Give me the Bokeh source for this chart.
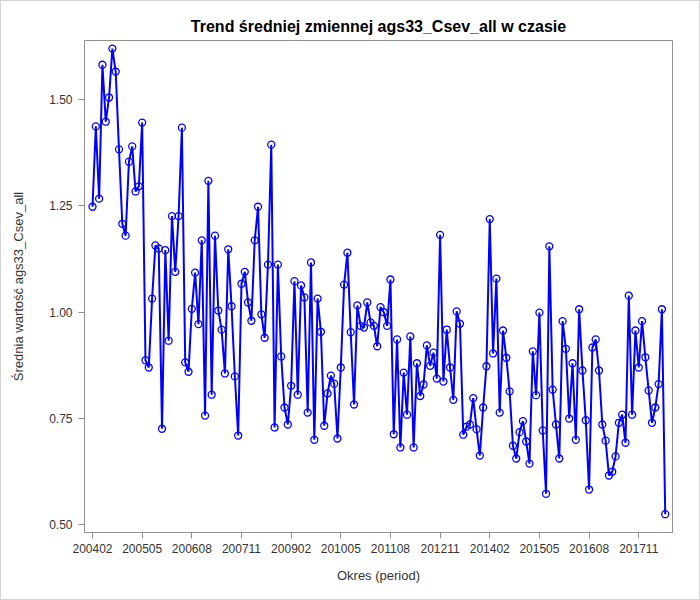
#!/usr/bin/env python3
#-*- coding:utf-8 -*-

from bokeh.plotting import figure
from bokeh.models import ColumnDataSource, FixedTicker, Range1d
from bokeh.embed import file_html
from bokeh.resources import INLINE

# monthly periods 200402 .. 201807
n_months = 174
periods = [f"{2004 + (1 + k) // 12}{(1 + k) % 12 + 1:02d}" for k in range(n_months)]

mean_values = [
    1.248, 1.437, 1.267, 1.582, 1.448, 1.505, 1.620, 1.566, 1.383, 1.208,
    1.180, 1.354, 1.390, 1.284, 1.296, 1.446, 0.887, 0.870, 1.032, 1.157,
    1.150, 0.726, 1.146, 0.933, 1.226, 1.095, 1.226, 1.434, 0.882, 0.860,
    1.008, 1.093, 0.972, 1.169, 0.757, 1.309, 0.806, 1.180, 1.004, 0.959,
    0.856, 1.148, 1.014, 0.849, 0.710, 1.067, 1.095, 1.023, 0.980, 1.169,
    1.248, 0.995, 0.940, 1.112, 1.394, 0.729, 1.112, 0.896, 0.776, 0.736,
    0.827, 1.073, 0.806, 1.063, 1.035, 0.764, 1.117, 0.700, 1.032, 0.954,
    0.733, 0.809, 0.851, 0.832, 0.703, 0.870, 1.065, 1.140, 0.953, 0.783,
    1.016, 0.968, 0.964, 1.023, 0.976, 0.968, 0.920, 1.012, 1.000, 0.968,
    1.077, 0.713, 0.936, 0.682, 0.858, 0.759, 0.943, 0.682, 0.880, 0.803,
    0.830, 0.922, 0.874, 0.905, 0.844, 1.182, 0.837, 0.959, 0.870, 0.794,
    1.002, 0.973, 0.712, 0.731, 0.736, 0.798, 0.725, 0.663, 0.776, 0.873,
    1.219, 0.903, 1.079, 0.764, 0.957, 0.893, 0.814, 0.686, 0.656, 0.718,
    0.744, 0.696, 0.644, 0.908, 0.805, 0.999, 0.722, 0.573, 1.155, 0.818,
    0.736, 0.656, 0.979, 0.914, 0.750, 0.880, 0.700, 1.007, 0.863, 0.746,
    0.583, 0.917, 0.936, 0.863, 0.736, 0.698, 0.616, 0.625, 0.661, 0.740,
    0.759, 0.693, 1.039, 0.759, 0.957, 0.870, 0.979, 0.894, 0.816, 0.740,
    0.776, 0.831, 1.007, 0.525,
]

x_tick_step = 15
y_ticks = [0.50, 0.75, 1.00, 1.25, 1.50]

FONT = "Liberation Sans"
GRAY = "#909090"

src = ColumnDataSource(data=dict(idx=list(range(len(periods))),
                                 period=periods, value=mean_values))

p = figure(frame_width=588, frame_height=492,
           min_border_left=83, min_border_right=27,
           min_border_top=39, min_border_bottom=67,
           x_range=Range1d(-2.42, 175.2), y_range=Range1d(0.482, 1.639),
           title="Trend średniej zmiennej ags33_Csev_all w czasie",
           output_backend="svg", toolbar_location=None)
p.styles = {"border": "1px solid #d4d4d4"}

p.title.align = "center"
p.title.vertical_align = "middle"
p.title.text_font = FONT
p.title.text_font_size = "16px"
p.title.text_font_style = "bold"
p.title.text_color = "black"

p.grid.visible = False
p.outline_line_color = GRAY
p.outline_line_width = 1

xt = list(range(0, len(periods), x_tick_step))
p.xaxis.ticker = FixedTicker(ticks=xt)
p.xaxis.major_label_overrides = {i: periods[i] for i in xt}
p.yaxis.ticker = FixedTicker(ticks=y_ticks)
p.yaxis.major_label_overrides = {v: f"{v:.2f}" for v in y_ticks}

p.xaxis.axis_label = "Okres (period)"
p.yaxis.axis_label = "Średnia wartość ags33_Csev_all"

for ax in (p.xaxis, p.yaxis):
    ax.axis_line_color = GRAY
    ax.major_tick_line_color = GRAY
    ax.major_tick_out = 6
    ax.major_tick_in = 0
    ax.minor_tick_line_color = None
    ax.major_label_text_font = FONT
    ax.major_label_text_font_size = "12px"
    ax.major_label_text_color = "#333333"
    ax.axis_label_text_font = FONT
    ax.axis_label_text_font_size = "13px"
    ax.axis_label_text_font_style = "normal"
    ax.axis_label_text_color = "#333333"

p.xaxis.major_label_standoff = 5
p.xaxis.axis_label_standoff = 12
p.yaxis.major_label_standoff = 6
p.yaxis.axis_label_standoff = 20

p.line(x="idx", y="value", source=src, line_color="#0000ff", line_width=2)
p.scatter(x="idx", y="value", source=src, marker="circle", size=7,
          line_color="#0000ff", line_width=1.3, fill_color=None)

open("out.html", "w").write(file_html(p, INLINE))
